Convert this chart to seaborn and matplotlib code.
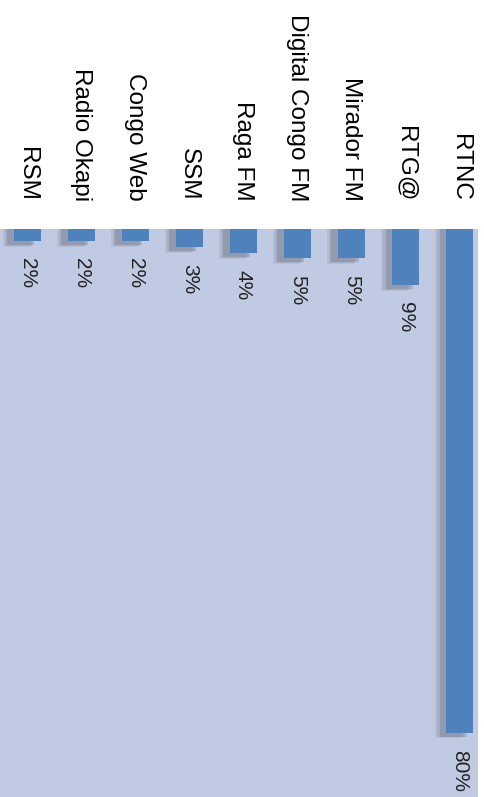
import matplotlib
matplotlib.use("Agg")
import matplotlib.pyplot as plt
import seaborn as sns
import numpy as np
import pandas as pd

# data (share of audience, %)
stations = ['RSM', 'Radio Okapi', 'Congo Web', 'SSM', 'Raga FM',
            'Digital Congo FM', 'Mirador FM', 'RTG@', 'RTNC']
shares = [1.9, 1.9, 1.9, 2.9, 3.8, 4.6, 4.6, 8.9, 80.0]
labels = ['2%', '2%', '2%', '3%', '4%', '5%', '5%', '9%', '80%']

df = pd.DataFrame({'station': stations, 'share': shares})

sns.set_theme(style='white')
plt.rcParams['font.family'] = ['Liberation Sans', 'DejaVu Sans']

W, H = 484, 797
fig = plt.figure(figsize=(W / 100, H / 100), dpi=100)
fig.patch.set_facecolor('white')
ax = fig.add_axes([0, 0, 478 / W, (H - 229) / H])
ax.set_facecolor('#c0cae2')

pos = np.arange(len(stations))
# soft grey shadow to the left of / below each bar
for off, extra, a in [(0.2, 0.9, 0.12), (0.16, 0.75, 0.2), (0.12, 0.6, 0.3)]:
    ax.bar(pos - off, np.array(shares) + extra, width=0.5, color='#6a6f7c',
           alpha=a, linewidth=0, zorder=1)

sns.barplot(data=df, x='station', y='share', order=stations, color='#4f81bd',
            saturation=1, width=0.5, linewidth=0, ax=ax, zorder=2)

ax.set_xlim(-0.5, 8.34)
ax.set_ylim(90.2, 0)
ax.set_xlabel('')
ax.set_ylabel('')
ax.set_xticks([])
ax.set_yticks([])
for s in ax.spines.values():
    s.set_visible(False)

# value labels under each bar
for i, (v, lab) in enumerate(zip(shares, labels)):
    ax.text(i, v + 2.7, lab, rotation=270, ha='center', va='top',
            fontsize=15, color='#222222')

# station names in the white band above the plot
for i, name in enumerate(stations):
    ax.annotate(name, xy=(i, 0), xycoords='data', xytext=(0, 28 * 72 / 100),
                textcoords='offset points', rotation=270, ha='center',
                va='bottom', fontsize=17.5, color='black', annotation_clip=False)

fig.savefig('out.png', dpi=100)
